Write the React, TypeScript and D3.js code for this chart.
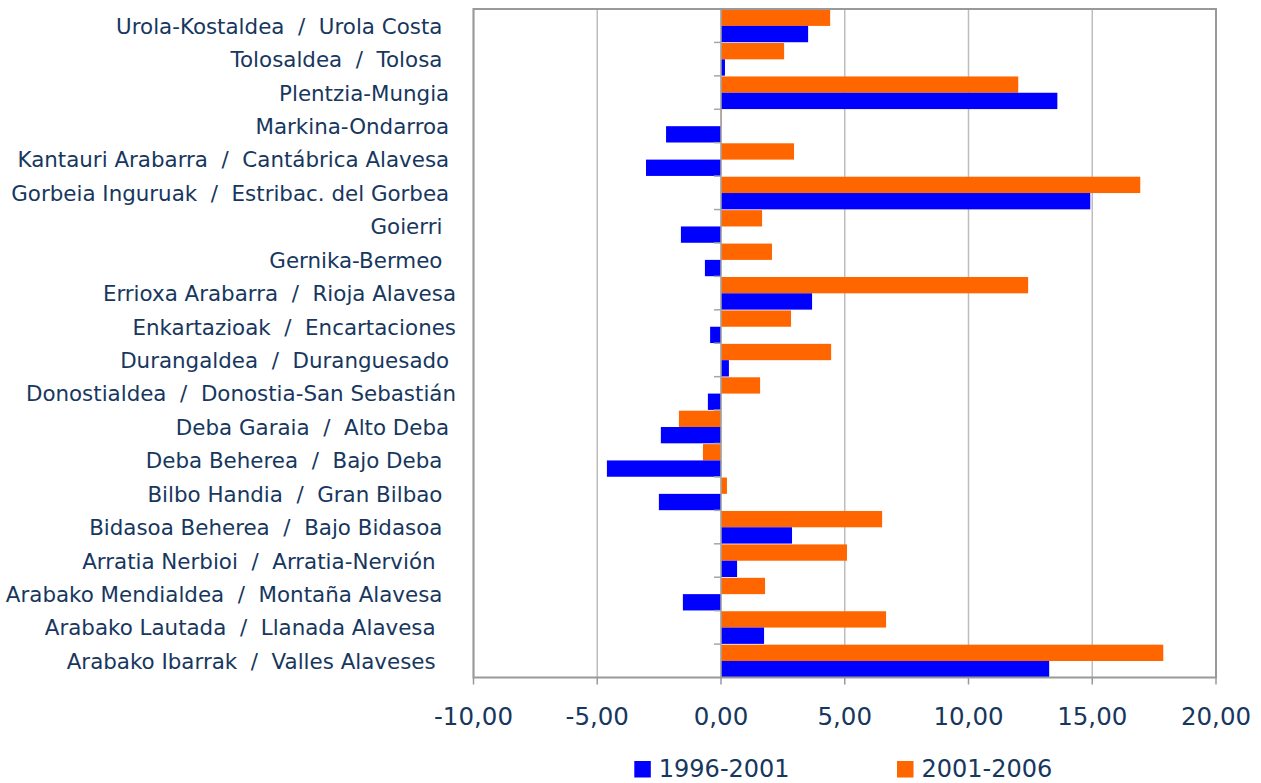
import React from "react";
import * as d3 from "d3";

const categories: string[] = [
  "Urola-Kostaldea  /  Urola Costa  ",
  "Tolosaldea  /  Tolosa  ",
  "Plentzia-Mungia ",
  "Markina-Ondarroa ",
  "Kantauri Arabarra  /  Cantábrica Alavesa ",
  "Gorbeia Inguruak  /  Estribac. del Gorbea ",
  "Goierri  ",
  "Gernika-Bermeo  ",
  "Errioxa Arabarra  /  Rioja Alavesa",
  "Enkartazioak  /  Encartaciones",
  "Durangaldea  /  Duranguesado ",
  "Donostialdea  /  Donostia-San Sebastián",
  "Deba Garaia  /  Alto Deba ",
  "Deba Beherea  /  Bajo Deba  ",
  "Bilbo Handia  /  Gran Bilbao  ",
  "Bidasoa Beherea  /  Bajo Bidasoa  ",
  "Arratia Nerbioi  /  Arratia-Nervión   ",
  "Arabako Mendialdea  /  Montaña Alavesa  ",
  "Arabako Lautada  /  Llanada Alavesa   ",
  "Arabako Ibarrak  /  Valles Alaveses   ",
];

const series1996_2001: number[] = [
  3.52, 0.16, 13.59, -2.22, -3.03, 14.92, -1.62, -0.65, 3.68, -0.44,
  0.32, -0.53, -2.43, -4.61, -2.51, 2.87, 0.65, -1.54, 1.74, 13.26,
];

const series2001_2006: number[] = [
  4.41, 2.55, 12.01, 0.02, 2.95, 16.94, 1.66, 2.06, 12.41, 2.83,
  4.45, 1.58, -1.7, -0.73, 0.24, 6.51, 5.09, 1.78, 6.67, 17.87,
];

const xTicks: number[] = [-10, -5, 0, 5, 10, 15, 20];
const seriesNames: string[] = ["1996-2001", "2001-2006"];
const seriesColors: string[] = ["#0000FF", "#FF6600"];

const W = 1261;
const H = 783;
const plot = { left: 473.5, right: 1216, top: 9, bottom: 677.5 };
const textColor = "#17375E";
const font = "'DejaVu Sans', Verdana, sans-serif";

export default function App() {
  const x = d3.scaleLinear().domain([-10, 20]).range([plot.left, plot.right]);
  const y = d3
    .scaleBand<string>()
    .domain(categories)
    .range([plot.top, plot.bottom])
    .paddingInner(0)
    .paddingOuter(0);
  const sub = d3
    .scaleBand<string>()
    .domain(["2001-2006", "1996-2001"])
    .range([0.6, y.bandwidth() - 0.2])
    .padding(0);
  const fmt = (v: number) => d3.format(".2f")(v).replace(".", ",").replace("\u2212", "-");
  const x0 = x(0);

  return (
    <svg
      width={W}
      height={H}
      style={{ position: "absolute", left: 0, top: 0, display: "block", background: "#fff" }}
    >
      {xTicks.map((t) => (
        <line
          key={"g" + t}
          x1={x(t)}
          x2={x(t)}
          y1={plot.top}
          y2={plot.bottom}
          stroke="#BDBDBD"
          strokeWidth={1.5}
        />
      ))}
      {categories.map((c, i) => {
        const b = y(c)!;
        const v1 = series1996_2001[i];
        const v2 = series2001_2006[i];
        return (
          <g key={"b" + i}>
            <rect
              x={Math.min(x(v2), x0)}
              y={b + sub("2001-2006")!}
              width={Math.abs(x(v2) - x0)}
              height={sub.bandwidth()}
              fill={seriesColors[1]}
            />
            <rect
              x={Math.min(x(v1), x0)}
              y={b + sub("1996-2001")!}
              width={Math.abs(x(v1) - x0)}
              height={sub.bandwidth()}
              fill={seriesColors[0]}
            />
          </g>
        );
      })}
      <line x1={x0} x2={x0} y1={plot.top} y2={plot.bottom} stroke="#A6A6A6" strokeWidth={1.5} />
      {categories.map((c, i) => (
        <line
          key={"ct" + i}
          x1={x0 - 7}
          x2={x0}
          y1={y(c)!}
          y2={y(c)!}
          stroke="#A6A6A6"
          strokeWidth={1.5}
        />
      ))}
      <rect
        x={plot.left}
        y={plot.top}
        width={plot.right - plot.left}
        height={plot.bottom - plot.top}
        fill="none"
        stroke="#999999"
        strokeWidth={2}
      />
      {xTicks.map((t) => (
        <line
          key={"t" + t}
          x1={x(t)}
          x2={x(t)}
          y1={plot.bottom}
          y2={plot.bottom + 7}
          stroke="#999999"
          strokeWidth={1.5}
        />
      ))}
      {xTicks.map((t) => (
        <text
          key={"l" + t}
          x={x(t)}
          y={725}
          textAnchor="middle"
          fontFamily={font}
          fontSize={24.5}
          fill={textColor}
        >
          {fmt(t)}
        </text>
      ))}
      {categories.map((c, i) => (
        <text
          key={"c" + i}
          x={456}
          y={y(c)! + y.bandwidth() / 2 + 8}
          textAnchor="end"
          fontFamily={font}
          fontSize={21.4}
          fill={textColor}
          style={{ whiteSpace: "pre" }}
          xmlSpace="preserve"
        >
          {c}
        </text>
      ))}
      {seriesNames.map((s, i) => {
        const lx = [634.3, 897][i];
        return (
          <g key={"lg" + i}>
            <rect x={lx} y={761} width={16.5} height={16.5} fill={seriesColors[i]} />
            <text
              x={lx + 24.5}
              y={777}
              fontFamily={font}
              fontSize={24}
              fill={textColor}
            >
              {s}
            </text>
          </g>
        );
      })}
    </svg>
  );
}
